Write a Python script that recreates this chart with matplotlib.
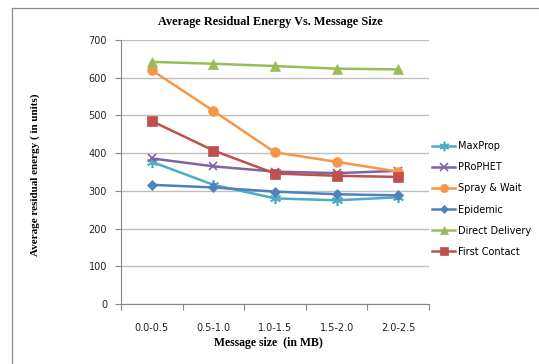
import matplotlib
matplotlib.use("Agg")
import matplotlib.pyplot as plt
from matplotlib.lines import Line2D
import numpy as np

# ── Data ─────────────────────────────────────────────────────────────────────
sizes = ["0.0-0.5", "0.5-1.0", "1.0-1.5", "1.5-2.0", "2.0-2.5"]
maxprop = [377, 316, 280, 275, 283]
prophet = [386, 365, 351, 347, 353]
spray_wait = [620, 512, 402, 377, 351]
epidemic = [316, 309, 298, 291, 288]
direct_delivery = [642, 637, 631, 624, 622]
first_contact = [485, 407, 346, 340, 337]

series = [
    ("MaxProp", maxprop, "#4BACC6", (6, 2, 0), 8),
    ("PRoPHET", prophet, "#8064A2", "x", 6),
    ("Spray & Wait", spray_wait, "#F79646", "o", 7),
    ("Epidemic", epidemic, "#4F81BD", "D", 5),
    ("Direct Delivery", direct_delivery, "#9BBB59", "^", 7),
    ("First Contact", first_contact, "#C0504D", "s", 6.5),
]

# ── Figure ───────────────────────────────────────────────────────────────────
fig = plt.figure(figsize=(5.39, 3.64), dpi=100)
fig.patch.set_facecolor("white")
ax = fig.add_axes([121 / 539, 1 - 304 / 364, 308 / 539, 264 / 364])

x = np.arange(len(sizes))
for name, vals, col, mk, ms in series:
    lw_m = 1.2 if mk in ("x", (6, 2, 0)) else 0.5
    ax.plot(x, vals, color=col, linewidth=1.8, marker=mk, markersize=ms,
            markeredgecolor=col, markeredgewidth=lw_m, label=name)

ax.set_xlim(-0.5, len(sizes) - 0.5)
ax.set_ylim(0, 700)
ax.set_yticks(range(0, 701, 100))
ax.set_xticks(x)
ax.set_xticklabels(sizes)
ax.set_xticks(np.arange(-0.5, len(sizes), 1.0), minor=True)
ax.tick_params(axis="x", which="major", length=0, pad=14, labelsize=7, labelcolor="#222222")
ax.tick_params(axis="x", which="minor", length=4, color="#868686", width=0.8)
ax.tick_params(axis="y", length=4, color="#868686", width=0.8, labelsize=7,
               labelcolor="#222222", pad=6)
for lab in ax.get_xticklabels() + ax.get_yticklabels():
    lab.set_family("DejaVu Sans")

ax.grid(axis="y", color="#BFBFBF", linewidth=1)
ax.set_axisbelow(True)
for s in ("top", "right"):
    ax.spines[s].set_visible(False)
for s in ("left", "bottom"):
    ax.spines[s].set_color("#868686")
    ax.spines[s].set_linewidth(0.8)

serif = "Liberation Serif"
fig.text(270 / 539, 1 - 22 / 364, "Average Residual Energy Vs. Message Size",
         ha="center", va="center", fontsize=8.8, fontweight="bold", family=serif)
fig.text(268 / 539, 1 - 343 / 364, "Message size  (in MB)",
         ha="center", va="center", fontsize=8.5, fontweight="bold", family=serif)
fig.text(35 / 539, 1 - 175 / 364, "Average residual energy ( in units)",
         ha="center", va="center", rotation=90, fontsize=8, fontweight="bold", family=serif)

leg = ax.legend(loc="upper left", bbox_to_anchor=(432 / 539, 1 - 141 / 364),
                bbox_transform=fig.transFigure, frameon=False, fontsize=7,
                handlelength=2.4, handletextpad=0.3, labelspacing=1.15,
                borderaxespad=0, borderpad=0, markerscale=0.85)
for t in leg.get_texts():
    t.set_family("DejaVu Sans")

# outer chart border (left and top edges visible)
x0, y0 = 12 / 539, 1 - 8 / 364
fig.add_artist(Line2D([x0, x0], [0, y0], transform=fig.transFigure, color="#8C8C8C", linewidth=0.9))
fig.add_artist(Line2D([x0, 1], [y0, y0], transform=fig.transFigure, color="#8C8C8C", linewidth=0.9))

fig.savefig("out.png", dpi=100, facecolor="white")
